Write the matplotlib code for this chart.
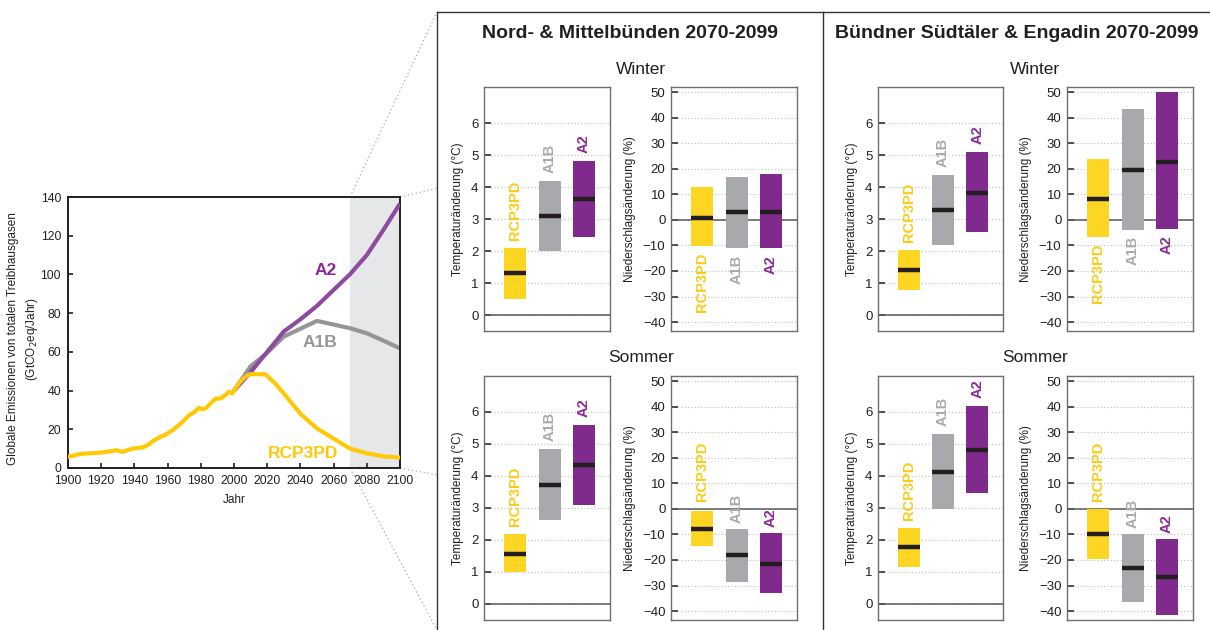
import matplotlib
matplotlib.use("Agg")
import matplotlib.pyplot as plt
from matplotlib.lines import Line2D
import numpy as np

plt.rcParams['font.family'] = ['Liberation Sans', 'DejaVu Sans']

# ---------------- data ----------------
scenarios = ["RCP3PD", "A1B", "A2"]
bar_colors = ["#FDD523", "#A7A9AC", "#7F2A8C"]
label_colors = ["#FDCB12", "#A7A9AC", "#8A2A95"]
line_colors = ["#FFC907", "#939598", "#8C4B9E"]

hist_years = [1900, 1905, 1909, 1914, 1919, 1924, 1929, 1933, 1936, 1939, 1943, 1945, 1948, 1951,
              1955, 1959, 1963, 1968, 1973, 1976, 1979, 1981, 1983, 1986, 1989, 1992, 1995, 1997,
              1999, 2000]
hist_values = [5.8, 6.8, 7.4, 7.6, 7.9, 8.4, 9.2, 8.3, 9.3, 10.0, 10.5, 10.6, 11.8, 13.8,
               15.8, 17.3, 19.6, 23.0, 27.3, 28.8, 31.1, 30.3, 30.8, 33.5, 35.9, 35.9, 37.8, 39.4,
               38.5, 40.0]

rcp_years = [2000, 2003, 2006, 2009, 2012, 2019, 2025, 2030, 2040, 2050, 2060, 2070, 2080, 2090, 2100]
rcp_values = [40.0, 43.7, 46.5, 48.4, 48.5, 48.4, 43.5, 38.5, 28.0, 20.4, 15.2, 10.0, 7.6, 6.0, 5.4]

a1b_years = [2000, 2010, 2020, 2030, 2050, 2070, 2080, 2090, 2100]
a1b_values = [40.0, 52.5, 59.5, 67.9, 76.0, 72.2, 69.6, 65.8, 61.8]

a2_years = [2000, 2010, 2020, 2030, 2040, 2050, 2060, 2070, 2080, 2090, 2100]
a2_values = [40.0, 49.5, 60.0, 70.5, 76.8, 83.8, 92.0, 100.2, 110.0, 123.0, 136.6]

regions = ["Nord- & Mittelbünden 2070-2099", "Bündner Südtäler & Engadin 2070-2099"]
seasons = ["Winter", "Sommer"]

# [region][season] -> values per scenario
temp_low = [[[0.5, 2.0, 2.45], [1.0, 2.64, 3.08]],
            [[0.78, 2.2, 2.59], [1.15, 2.96, 3.47]]]
temp_med = [[[1.3, 3.1, 3.62], [1.57, 3.73, 4.35]],
            [[1.41, 3.29, 3.82], [1.77, 4.12, 4.81]]]
temp_high = [[[2.1, 4.2, 4.8], [2.2, 4.85, 5.6]],
             [[2.03, 4.37, 5.09], [2.37, 5.3, 6.18]]]

prec_low = [[[-10.4, -11.2, -11.2], [-14.7, -28.7, -33.0]],
            [[-6.9, -3.9, -3.4], [-19.5, -36.5, -41.6]]]
prec_med = [[[0.9, 2.9, 3.2], [-7.8, -18.2, -21.4]],
            [[8.3, 19.6, 22.7], [-10.0, -23.2, -26.8]]]
prec_high = [[[12.9, 16.8, 17.9], [-0.8, -7.9, -9.4]],
             [[23.8, 43.2, 49.9], [0.0, -9.7, -11.7]]]

temp_ticks = [0, 1, 2, 3, 4, 5, 6]
prec_ticks = [-40, -30, -20, -10, 0, 10, 20, 30, 40, 50]

# ---------------- figure ----------------
W, H = 1210, 630
fig = plt.figure(figsize=(W / 100, H / 100), dpi=100)


def ax_at(x0, y0, x1, y1):
    return fig.add_axes([x0 / W, 1 - y1 / H, (x1 - x0) / W, (y1 - y0) / H])


def fline(xs, ys, **kw):
    fig.add_artist(Line2D([x / W for x in xs], [1 - y / H for y in ys],
                          transform=fig.transFigure, **kw))


# connector dotted lines (zoom effect)
dot = dict(color="#AAAAAA", lw=0.9, linestyle=(0, (1, 2.2)), zorder=0)
fline([350, 437], [197, 12], **dot)
fline([350, 437], [468, 630], **dot)
fline([400, 437], [197, 188.5], **dot)
fline([400, 437], [468, 475], **dot)

# panel frame
frame = dict(color="#333333", lw=1.0, zorder=1)
fline([437, 437], [12, 630], **frame)
fline([437, 1210], [12, 12], **frame)
fline([822.5, 822.5], [12, 630], **frame)

# ---------------- left chart ----------------
ax = ax_at(68, 197, 400, 468)
ax.axvspan(2070, 2100, color="#E6E7E8", zorder=0, lw=0)
ax.plot(a1b_years, a1b_values, color=line_colors[1], lw=3.0, solid_capstyle="butt", zorder=2)
ax.plot(a2_years, a2_values, color=line_colors[2], lw=3.0, solid_capstyle="butt", zorder=3)
ax.plot(rcp_years, rcp_values, color=line_colors[0], lw=3.0, solid_capstyle="butt", zorder=4)
ax.plot(hist_years, hist_values, color=line_colors[0], lw=3.0, solid_joinstyle="round", zorder=5)
ax.set_xlim(1900, 2100)
ax.set_ylim(0, 140)
ax.set_xticks(range(1900, 2101, 20))
ax.set_yticks(range(0, 141, 20))
ax.tick_params(direction="in", length=3.5, width=1.2, labelsize=8.8, colors="#231F20")
ax.tick_params(axis="x", pad=5)
ax.tick_params(axis="y", pad=5)
for s in ax.spines.values():
    s.set_color("#231F20")
    s.set_linewidth(1.4)
ax.set_xlabel("Jahr", fontsize=8.5, color="#231F20", labelpad=5)
ax.set_ylabel("Globale Emissionen von totalen Treibhausgasen\n(GtCO$_2$eq/Jahr)",
              fontsize=8.5, color="#231F20", linespacing=1.45, va="center", ha="center")
ax.yaxis.set_label_coords(-0.134, 0.476)
ax.text(2055, 102, "A2", color=label_colors[2], fontsize=12.5, fontweight="bold", ha="center", va="center")
ax.text(2052, 65, "A1B", color=line_colors[1], fontsize=12.5, fontweight="bold", ha="center", va="center")
ax.text(2041.5, 7.5, "RCP3PD", color=line_colors[0], fontsize=12.5, fontweight="bold", ha="center", va="center")

# ---------------- panels ----------------
region_centers = [630, 1017]
fig.text(region_centers[0] / W, 1 - 33 / H, regions[0], fontsize=14, fontweight="bold",
         ha="center", va="center", color="#231F20")
fig.text(region_centers[1] / W, 1 - 33 / H, regions[1], fontsize=14, fontweight="bold",
         ha="center", va="center", color="#231F20")
season_x = [641, 1035]
season_y = [69, 357]
for r in range(2):
    for s in range(2):
        fig.text(season_x[r] / W, 1 - season_y[s] / H, seasons[s], fontsize=12.5,
                 ha="center", va="center", color="#231F20")

temp_x = [(484, 610), (878, 1003)]
prec_x = [(671, 797), (1067, 1193)]
row_y = [(87, 331), (376, 620)]

positions = [1, 2, 3]
bw = 0.64


def style_panel(a, ylim, ticks, ylabel):
    a.set_xlim(0.1, 3.75)
    a.set_ylim(*ylim)
    a.set_xticks([])
    a.set_yticks(ticks)
    a.yaxis.grid(True, color="#BDBEC0", linestyle=(0, (1, 2)), lw=0.8)
    a.set_axisbelow(True)
    a.axhline(0, color="#58595B", lw=1.1, zorder=1.5)
    a.tick_params(axis="y", direction="in", length=5, width=1.1, labelsize=9.5,
                  colors="#231F20", pad=4)
    for sp in a.spines.values():
        sp.set_color("#6D6E71")
        sp.set_linewidth(1.0)
    a.set_ylabel(ylabel, fontsize=8.5, color="#231F20", labelpad=5)


for r in range(2):
    for s in range(2):
        y0, y1 = row_y[s]
        # temperature
        at = ax_at(temp_x[r][0], y0, temp_x[r][1], y1)
        style_panel(at, (-0.5, 7.125), temp_ticks, "Temperaturänderung (°C)")
        lo, md, hi = temp_low[r][s], temp_med[r][s], temp_high[r][s]
        for i in range(3):
            at.bar(positions[i], hi[i] - lo[i], bottom=lo[i], width=bw, color=bar_colors[i], zorder=2)
            at.plot([positions[i] - bw / 2, positions[i] + bw / 2], [md[i], md[i]],
                    color="#231F20", lw=3.2, solid_capstyle="butt", zorder=3)
            at.text(positions[i], hi[i] + 0.25, scenarios[i], rotation=90, ha="center", va="bottom",
                    color=label_colors[i], fontsize=10.5, fontweight="bold")
        # precipitation
        ap = ax_at(prec_x[r][0], y0, prec_x[r][1], y1)
        style_panel(ap, (-43.5, 52), prec_ticks, "Niederschlagsänderung (%)")
        lo, md, hi = prec_low[r][s], prec_med[r][s], prec_high[r][s]
        for i in range(3):
            ap.bar(positions[i], hi[i] - lo[i], bottom=lo[i], width=bw, color=bar_colors[i], zorder=2)
            ap.plot([positions[i] - bw / 2, positions[i] + bw / 2], [md[i], md[i]],
                    color="#231F20", lw=3.2, solid_capstyle="butt", zorder=3)
            if s == 0:
                ap.text(positions[i], lo[i] - 2.5, scenarios[i], rotation=90, ha="center", va="top",
                        color=label_colors[i], fontsize=10.5, fontweight="bold")
            else:
                ly = hi[i] + 2.2
                if ly > -3:
                    ly = 3
                ap.text(positions[i], ly, scenarios[i], rotation=90, ha="center", va="bottom",
                        color=label_colors[i], fontsize=10.5, fontweight="bold")

fig.savefig("out.png", dpi=100)
